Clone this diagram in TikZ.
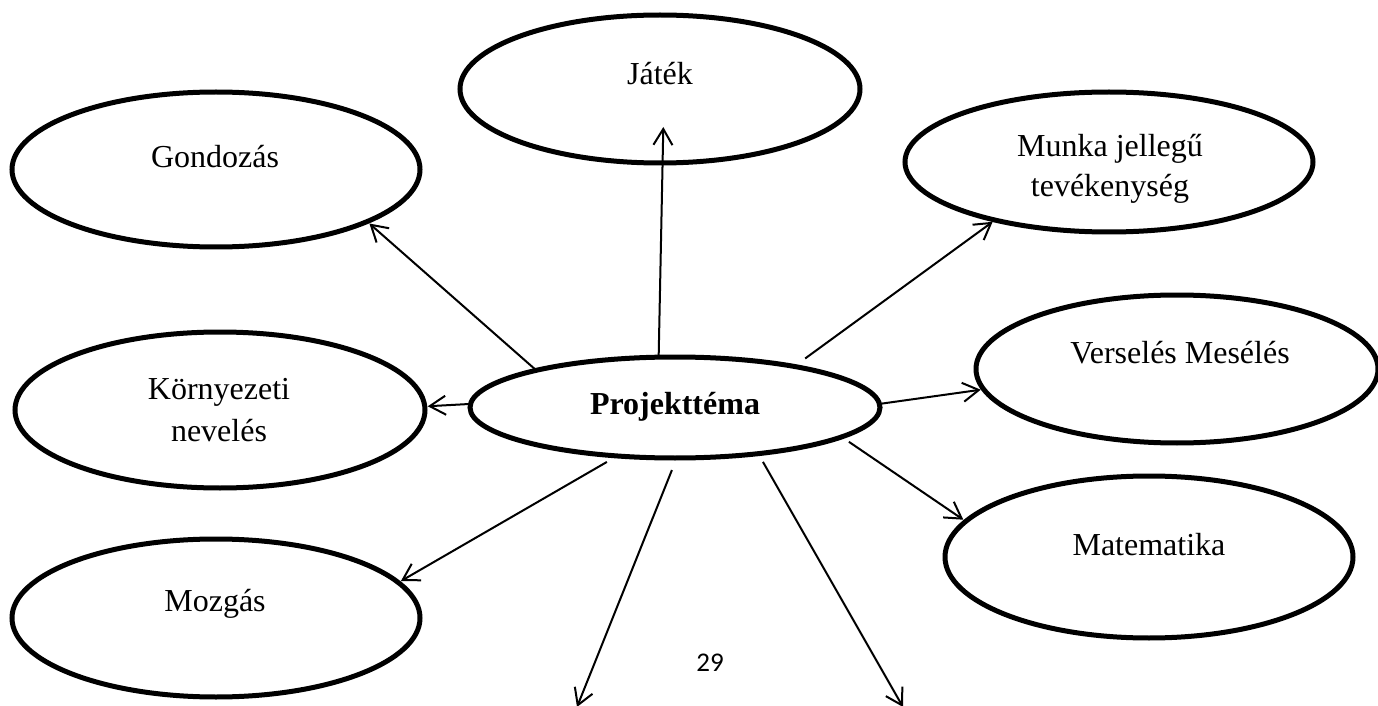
\documentclass[tikz,border=0pt]{standalone}
\usepackage{fontspec}
\setmainfont{Liberation Serif}
\newfontfamily\calibri{Carlito}
\usetikzlibrary{shapes.geometric,arrows.meta}
\begin{document}
\begin{tikzpicture}[x=0.5pt,y=-0.5pt,
  bub/.style={ellipse,draw=black,line width=2.5pt,fill=white,inner sep=0pt,outer sep=0pt},
  lbl/.style={font=\fontsize{16pt}{20pt}\selectfont,align=center,inner sep=0pt},
  arr/.style={line width=1pt,-{Straight Barb[length=8pt,width=9.5pt]}}]
\useasboundingbox[fill=white] (0,0) rectangle (1378,706);

\node[bub,minimum width=200pt,minimum height=74pt] (J) at (660,89) {};
\node[bub,minimum width=204pt,minimum height=77.5pt] (G) at (216,169.5) {};
\node[bub,minimum width=204pt,minimum height=70pt] (M) at (1109,162) {};
\node[bub,minimum width=205pt,minimum height=78pt] (K) at (220,410) {};
\node[bub,minimum width=205pt,minimum height=50.5pt] (P) at (675,407.5) {};
\node[bub,minimum width=201pt,minimum height=74pt] (V) at (1177,369) {};
\node[bub,minimum width=204pt,minimum height=81pt] (Ma) at (1149,557) {};
\node[bub,minimum width=204pt,minimum height=79pt] (Mo) at (216,618) {};

\node[lbl,anchor=base] (Jt) at (660,85) {Játék};
\node[lbl,anchor=base] (Gt) at (215,168) {Gondozás};
\node[lbl] (Mt) at (1110,169) {Munka jellegű\\tevékenység};
\node[lbl,font=\fontsize{16pt}{20.75pt}\selectfont] (Kt) at (219,410) {Környezeti\\nevelés};
\node[lbl,anchor=base,font=\fontsize{16pt}{20pt}\selectfont\bfseries] (Pt) at (675,415) {Projekttéma};
\node[lbl,anchor=base] (Vt) at (1180,364) {Verselés Mesélés};
\node[lbl,anchor=base] (Mat) at (1149,555) {Matematika};
\node[lbl,anchor=base] (Mot) at (215,611.7) {Mozgás};
\node[anchor=base,inner sep=0pt,font=\calibri\fontsize{13.5pt}{16pt}\selectfont] (pg) at (710,671.7) {29};

\coordinate (BL) at (577,707);
\coordinate (BR) at (903,707);

\draw[arr,shorten >=-18pt] (P.108.6) -- (J.-88.1);
\draw[arr,shorten >=1.5pt] (P.165.6) -- (G.-19.6);
\draw[arr,shorten <=6.75pt,shorten >=1.5pt] (P.19.5) -- (M.-153.1);
\draw[arr,shorten >=1.5pt] (P.179) -- (K.1.4);
\draw[arr,shorten >=1.5pt] (P.1.5) -- (V.-174.6);
\draw[arr,shorten <=4.35pt,shorten >=1.5pt] (P.-10.7) -- (Ma.169.5);
\draw[arr,shorten <=6pt,shorten >=1.5pt] (P.-140) -- (Mo.11.3);
\draw[arr,shorten <=6.5pt] (P.-88) -- (BL);
\draw[arr,shorten <=4.75pt] (P.-29.4) -- (BR);
\end{tikzpicture}
\end{document}
